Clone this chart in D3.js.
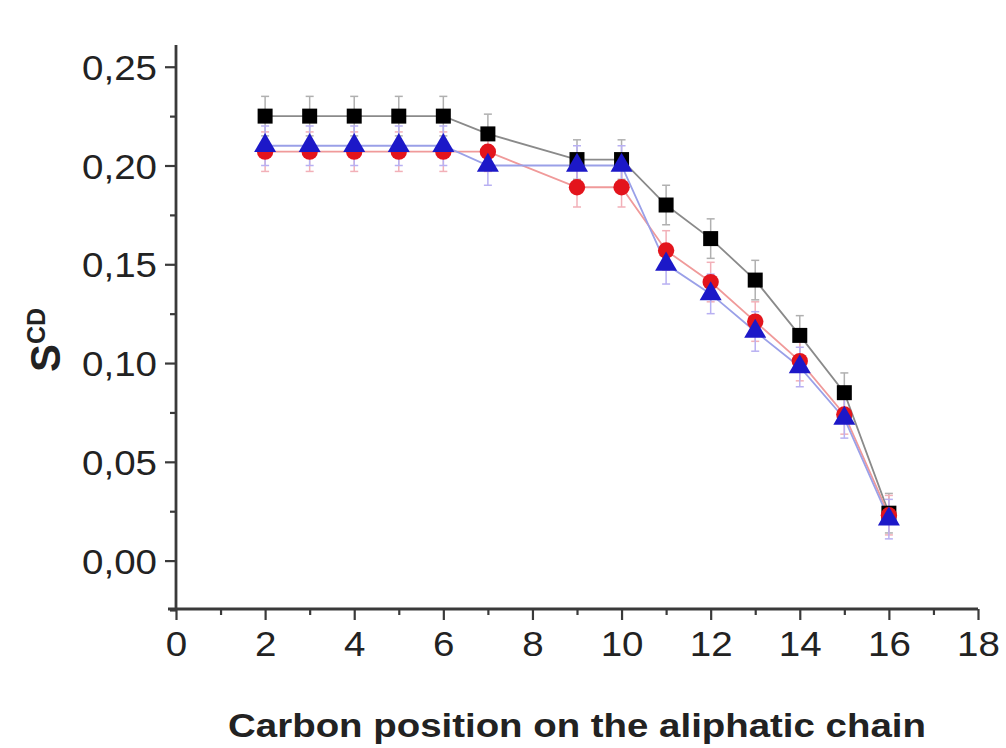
<!DOCTYPE html>
<html><head><meta charset="utf-8">
<script src="https://cdn.jsdelivr.net/npm/d3@7"></script>
<style>body{margin:0;background:#fff;} svg{display:block;}</style>
</head><body>
<svg id="c" width="1006" height="748"></svg>
<script>
const carbons = [2,3,4,5,6,7,9,10,11,12,13,14,15,16];
const blackSquares = [0.225,0.225,0.225,0.225,0.225,0.216,0.203,0.203,0.180,0.163,0.142,0.114,0.085,0.024];
const redCircles   = [0.207,0.207,0.207,0.207,0.207,0.207,0.189,0.189,0.157,0.141,0.121,0.101,0.074,0.023];
const blueTriangles= [0.210,0.210,0.210,0.210,0.210,0.200,0.200,0.200,0.150,0.135,0.116,0.098,0.072,0.021];
const errBlack = [0.01,0.01,0.01,0.01,0.01,0.01,0.01,0.01,0.01,0.01,0.01,0.01,0.01,0.01];
const errRed   = [0.01,0.01,0.01,0.01,0.01,0.01,0.01,0.01,0.01,0.01,0.01,0.01,0.01,0.01];
const errBlue  = [0.01,0.01,0.01,0.01,0.01,0.01,0.01,0.01,0.01,0.01,0.01,0.01,0.01,0.01];
const xTicks = [0,2,4,6,8,10,12,14,16,18];
const yTicks = [0,0.05,0.10,0.15,0.20,0.25];
const xTitle = "Carbon position on the aliphatic chain";

const svg = d3.select("#c");
const x = d3.scaleLinear().domain([0,18]).range([176,978]);
const y = d3.scaleLinear().domain([-0.0245,0.261]).range([609,45]);
const fmt = v => d3.format(".2f")(v).replace(".", ",");
const axisColor = "#3a3a3a";
const font = "Liberation Sans, Arial, sans-serif";
const sx = 1.1;

// minor ticks
const gxm = svg.append("g").attr("transform","translate(0,609)")
  .call(d3.axisBottom(x).tickValues(d3.range(1,18,2)).tickSize(6).tickFormat(""));
const gym = svg.append("g").attr("transform","translate(176,0)")
  .call(d3.axisLeft(y).tickValues([-0.025,0.025,0.075,0.125,0.175,0.225]).tickSize(6).tickFormat(""));
[gxm,gym].forEach(g=>{g.select(".domain").remove(); g.selectAll("line").attr("stroke",axisColor).attr("stroke-width",2.2);});

const gx = svg.append("g").attr("transform","translate(0,609)")
  .call(d3.axisBottom(x).tickValues(xTicks).tickSize(11).tickSizeOuter(0).tickPadding(11).tickFormat(d3.format("d")));
const gy = svg.append("g").attr("transform","translate(176,0)")
  .call(d3.axisLeft(y).tickValues(yTicks).tickSize(11).tickSizeOuter(0).tickPadding(8).tickFormat(fmt));
[gx,gy].forEach(g=>{
  g.select(".domain").attr("stroke",axisColor).attr("stroke-width",2.8);
  g.selectAll(".tick line").attr("stroke",axisColor).attr("stroke-width",2.2);
  g.selectAll("text").attr("fill","#222").style("font-family",font).style("font-size","35px");
});
gx.selectAll(".tick text").attr("transform",`scale(${sx},1)`);
gy.selectAll(".tick text").attr("transform",`scale(${sx},1)`).attr("x",-19/sx).attr("dy","0.36em");
gy.select(".domain").attr("d","M0,45V609");
gx.select(".domain").attr("d","M168,0H978");

const series = [
  {vals: blackSquares, err: errBlack, fill:"#000", line:"#8a8a8a", ebar:"#b0b0b0", sym:d3.symbolSquare, size:225},
  {vals: redCircles, err: errRed, fill:"#e3141c", line:"#f09a9a", ebar:"#f2b0b8", sym:d3.symbolCircle, size:210},
  {vals: blueTriangles, err: errBlue, fill:"#1c18c8", line:"#9aa0e8", ebar:"#b8b0f2", sym:d3.symbolTriangle, size:210},
];
const line = d3.line().x(d=>x(d[0])).y(d=>y(d[1]));
series.forEach(s=>{
  const pts = carbons.map((c,i)=>[c,s.vals[i],s.err[i]]);
  svg.append("path").datum(pts).attr("d",line).attr("fill","none").attr("stroke",s.line).attr("stroke-width",1.8);
});
series.forEach(s=>{
  const pts = carbons.map((c,i)=>[c,s.vals[i],s.err[i]]);
  const g = svg.append("g");
  pts.forEach(p=>{
    const cx = x(p[0]);
    g.append("line").attr("x1",cx).attr("x2",cx).attr("y1",y(p[1]-p[2])).attr("y2",y(p[1]+p[2])).attr("stroke",s.ebar).attr("stroke-width",1.5);
    [p[1]-p[2],p[1]+p[2]].forEach(v=>{
      g.append("line").attr("x1",cx-4).attr("x2",cx+4).attr("y1",y(v)).attr("y2",y(v)).attr("stroke",s.ebar).attr("stroke-width",1.5);
    });
  });
});
series.forEach(s=>{
  const pts = carbons.map((c,i)=>[c,s.vals[i]]);
  svg.append("g").selectAll("path").data(pts).join("path")
    .attr("transform",d=>`translate(${x(d[0])},${y(d[1])})`)
    .attr("d",d3.symbol().type(s.sym).size(s.size))
    .attr("fill",s.fill);
});

svg.append("text").attr("transform",`translate(577,737) scale(${sx+0.03},1)`).attr("text-anchor","middle")
  .style("font-family",font).style("font-size","34px").style("font-weight","bold").attr("fill","#222").text(xTitle);

const yt = svg.append("text").attr("transform","translate(60,372) rotate(-90)")
  .style("font-family",font).style("font-weight","bold").attr("fill","#222");
yt.append("tspan").style("font-size","42px").text("S");
yt.append("tspan").attr("dy",-15).style("font-size","25px").text("CD");
</script>
</body></html>
